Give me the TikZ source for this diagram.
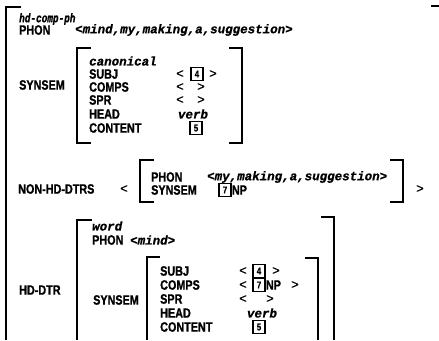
\documentclass[tikz,border=0pt]{standalone}
\usepackage{fontspec}
\newfontfamily\labfont[FakeStretch=0.8, FakeBold=1]{Liberation Sans Bold}
\newfontfamily\valfont[FakeBold=1]{Liberation Mono Bold Italic}
\newfontfamily\typfont[FakeStretch=0.75, FakeBold=1]{Liberation Mono Bold Italic}
\newfontfamily\angfont[FakeBold=0.5]{Liberation Sans}
\begin{document}
\begin{tikzpicture}[x=1pt,y=-1pt,
  lab/.style={anchor=west, inner sep=0pt, font=\labfont\fontsize{13.5}{13.5}\selectfont},
  val/.style={anchor=west, inner sep=0pt, font=\valfont\fontsize{12.5}{12.5}\selectfont},
  typ/.style={anchor=west, inner sep=0pt, font=\typfont\fontsize{12.5}{12.5}\selectfont},
  ang/.style={inner sep=0pt, font=\angfont\fontsize{13}{13}\selectfont},
  tag/.style={draw, line width=1.4pt, minimum width=12pt, minimum height=12.5pt, inner sep=0pt, font=\labfont\fontsize{10}{10}\selectfont},
  brk/.style={line width=2pt}]
\useasboundingbox (0,0) rectangle (439,340);
% outer bracket
\draw[brk] (21,7) -- (6,7) -- (6,340);
\draw[brk] (431,6) -- (439,6);
\node[typ] (type) at (19,19) {hd-comp-ph};
\node[lab] (phon) at (19,30) {PHON};
\node[val] (phonv) at (75,30) {<mind,my,making,a,suggestion>};
% SYNSEM
\node[lab] (syn) at (19,85) {SYNSEM};
\draw[brk] (91,48) -- (77,48) -- (77,143) -- (91,143);
\draw[brk] (229,48) -- (242,48) -- (242,143) -- (229,143);
\node[val] (canon) at (89,61) {canonical};
\node[lab] (subj) at (89,74) {SUBJ};
\node[lab] (comps) at (89,87) {COMPS};
\node[lab] (spr) at (89,100) {SPR};
\node[lab] (head) at (89,114) {HEAD};
\node[lab] (cont) at (89,128) {CONTENT};
\node[ang] (subjl) at (180,74) {<};
\node[tag] (subjt) at (197,74) {4};
\node[ang] (subjr) at (213,74) {>};
\node[ang] (compsl) at (180,87) {<};
\node[ang] (compsr) at (201,87) {>};
\node[ang] (sprl) at (180,100) {<};
\node[ang] (sprr) at (201,100) {>};
\node[val, anchor=center] (headv) at (193,114) {verb};
\node[tag] (contt) at (196,128) {5};
% NON-HD-DTRS
\node[lab] (nhd) at (18,189) {NON-HD-DTRS};
\node[ang] (nhdl) at (124,189) {<};
\draw[brk] (154,160) -- (140,160) -- (140,202) -- (154,202);
\draw[brk] (390,160) -- (403,160) -- (403,202) -- (390,202);
\node[lab] (nphon) at (151,177) {PHON};
\node[val] (nphonv) at (207,177) {<my,making,a,suggestion>};
\node[lab] (nsyn) at (151,190) {SYNSEM};
\node[tag] (nsynt) at (225,190) {7};
\node[lab] (nsynnp) at (nsynt.east) {NP};
\node[ang] (nhdr) at (420,189) {>};
% HD-DTR
\node[lab] (hd) at (19,290) {HD-DTR};
\draw[brk] (92,220) -- (77,220) -- (77,340);
\draw[brk] (321,217) -- (334,217) -- (334,340);
\node[val] (word) at (92,226) {word};
\node[lab] (hphon) at (92,240) {PHON};
\node[val] (hphonv) at (130,240) {<mind>};
\node[lab] (hsyn) at (93,300) {SYNSEM};
\draw[brk] (160,257) -- (147,257) -- (147,340);
\draw[brk] (305,258) -- (318,258) -- (318,340);
\node[lab] (hsubj) at (160,271) {SUBJ};
\node[lab] (hcomps) at (160,285) {COMPS};
\node[lab] (hspr) at (160,299) {SPR};
\node[lab] (hhead) at (160,313) {HEAD};
\node[lab] (hcont) at (160,327) {CONTENT};
\node[ang] (hsubjl) at (243,271) {<};
\node[tag] (hsubjt) at (259,271) {4};
\node[ang] (hsubjr) at (276,271) {>};
\node[ang] (hcompsl) at (243,285) {<};
\node[tag] (hcompst) at (259,285) {7};
\node[lab] (hcompsnp) at (hcompst.east) {NP};
\node[ang] (hcompsr) at (295,285) {>};
\node[ang] (hsprl) at (243,299) {<};
\node[ang] (hsprr) at (270,299) {>};
\node[val, anchor=center] (hheadv) at (262,313) {verb};
\node[tag] (hcontt) at (259,327) {5};
\end{tikzpicture}
\end{document}
